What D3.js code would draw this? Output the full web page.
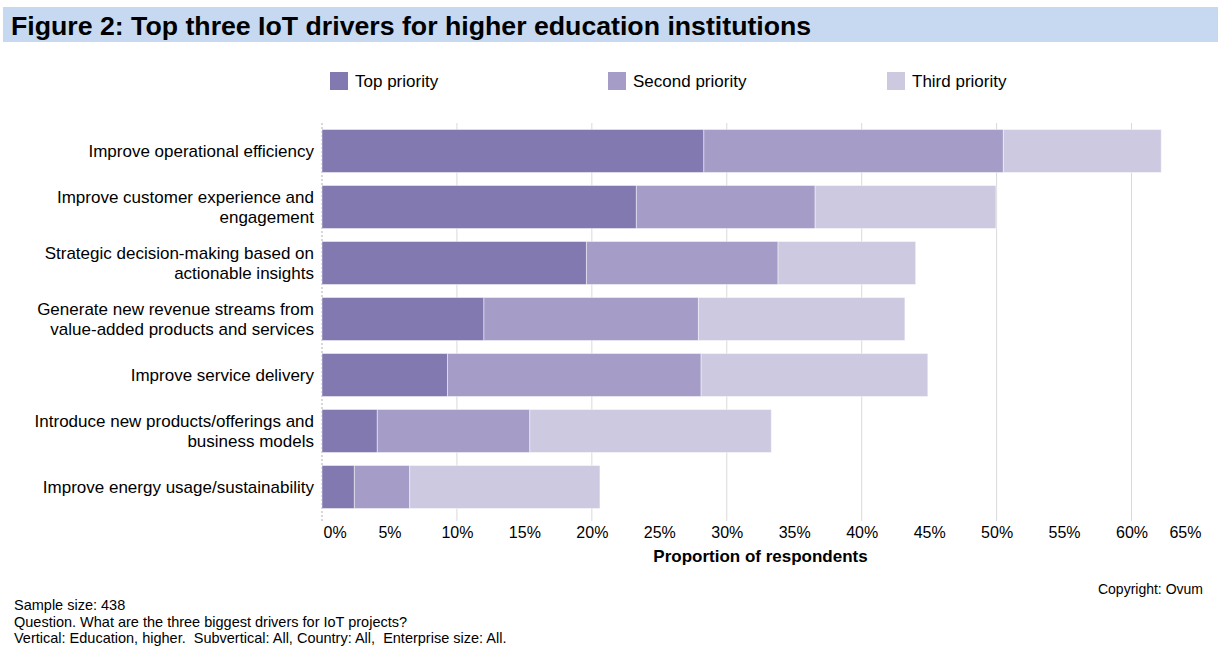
<!DOCTYPE html>
<html>
<head>
<meta charset="utf-8">
<script src="https://cdn.jsdelivr.net/npm/d3@7"></script>
<style>
  html, body { margin: 0; padding: 0; background: #fff; }
  svg { display: block; font-family: "Liberation Sans", Arial, sans-serif; }
</style>
</head>
<body>
<svg id="chart" width="1218" height="646"></svg>
<script>
const categories = [
  ["Improve operational efficiency"],
  ["Improve customer experience and", "engagement"],
  ["Strategic decision-making based on", "actionable insights"],
  ["Generate new revenue streams from", "value-added products and services"],
  ["Improve service delivery"],
  ["Introduce new products/offerings and", "business models"],
  ["Improve energy usage/sustainability"]
];
const seriesNames = ["Top priority", "Second priority", "Third priority"];
const topPriority    = [28.3, 23.3, 19.6, 12.0, 9.3, 4.1, 2.4];
const secondPriority = [22.2, 13.25, 14.2, 15.9, 18.8, 11.3, 4.1];
const thirdPriority  = [11.7, 13.4, 10.2, 15.3, 16.8, 17.9, 14.1];
const tickValues = [0, 5, 10, 15, 20, 25, 30, 35, 40, 45, 50, 55, 60, 65];
const gridValues = [0, 10, 20, 30, 40, 50, 60];
const colors = ["#8379b1", "#a59dc7", "#cdc9e1"];

const svg = d3.select("#chart");

// Title band
svg.append("rect").attr("x", 3).attr("y", 7).attr("width", 1215).attr("height", 35).attr("fill", "#c6d9f0");
svg.append("text").attr("x", 11).attr("y", 35)
  .attr("font-size", 26.7).attr("font-weight", "bold").attr("fill", "#000")
  .text("Figure 2: Top three IoT drivers for higher education institutions");

const x = d3.scaleLinear().domain([0, 65]).range([322, 1199]);
const y = d3.scaleBand().domain(d3.range(categories.length)).range([123, 515])
  .paddingInner(0.232).paddingOuter(0.116);

// gridlines
const g = svg.append("g");
g.selectAll("line.grid").data(gridValues.filter(d => d > 0)).join("line")
  .attr("class", "grid")
  .attr("x1", d => x(d)).attr("x2", d => x(d))
  .attr("y1", 123).attr("y2", 521)
  .attr("stroke", "#d9d9d9").attr("stroke-width", 1);
// left axis dashed
g.append("line").attr("x1", x(0)).attr("x2", x(0)).attr("y1", 123).attr("y2", 521)
  .attr("stroke", "#b0b0b0").attr("stroke-width", 1).attr("stroke-dasharray", "2,2");

// stacked data
const rows = categories.map((c, i) => ({ i, vals: [topPriority[i], secondPriority[i], thirdPriority[i]] }));
const stackData = rows.map(r => {
  let acc = 0;
  return r.vals.map((v, k) => { const s = { i: r.i, k, x0: acc, x1: acc + v }; acc += v; return s; });
}).flat();

svg.append("g").selectAll("rect").data(stackData).join("rect")
  .attr("x", d => x(d.x0))
  .attr("y", d => y(d.i))
  .attr("width", d => x(d.x1) - x(d.x0))
  .attr("height", y.bandwidth())
  .attr("fill", d => colors[d.k])
  .attr("stroke", "rgba(255,255,255,0.45)").attr("stroke-width", 1);

// category labels
const lab = svg.append("g").attr("font-size", 17).attr("fill", "#000").attr("text-anchor", "end");
categories.forEach((lines, i) => {
  const cy = y(i) + y.bandwidth() / 2;
  const lh = 20;
  const t = lab.append("text").attr("x", 314);
  lines.forEach((ln, j) => {
    const off = (j - (lines.length - 1) / 2) * lh;
    t.append("tspan").attr("x", 314).attr("y", cy + off + 6).text(ln);
  });
});

// x axis via d3
const axis = d3.axisBottom(x).tickValues(tickValues).tickFormat(d => d + "%").tickSize(0).tickPadding(0);
const ax = svg.append("g").attr("transform", "translate(0,538)").call(axis);
ax.select(".domain").remove();
ax.selectAll("text").attr("font-size", 16).attr("font-family", "Liberation Sans, Arial, sans-serif")
  .attr("fill", "#000").attr("dy", 0);
ax.selectAll(".tick").filter(d => d === 0).select("text").attr("text-anchor", "start").attr("x", 1);
ax.selectAll(".tick").filter(d => d === 65).select("text").attr("text-anchor", "end").attr("x", 2);

svg.append("text").attr("x", (x(0) + x(65)) / 2).attr("y", 562)
  .attr("text-anchor", "middle").attr("font-size", 17).attr("font-weight", "bold")
  .text("Proportion of respondents");

// legend
const leg = svg.append("g");
const legX = [330, 608, 887];
seriesNames.forEach((n, k) => {
  leg.append("rect").attr("x", legX[k]).attr("y", 72).attr("width", 18).attr("height", 18).attr("fill", colors[k]);
  leg.append("text").attr("x", legX[k] + 25).attr("y", 87).attr("font-size", 17).text(n);
});

// footer
svg.append("text").attr("x", 1203).attr("y", 594).attr("text-anchor", "end").attr("font-size", 14)
  .text("Copyright: Ovum");
const notes = [
  "Sample size: 438",
  "Question. What are the three biggest drivers for IoT projects?",
  "Vertical: Education, higher.  Subvertical: All, Country: All,  Enterprise size: All."
];
svg.append("g").selectAll("text").data(notes).join("text")
  .attr("x", 14).attr("y", (d, i) => 610 + i * 16.5).attr("font-size", 14.5)
  .style("white-space", "pre")
  .text(d => d);
</script>
</body>
</html>
